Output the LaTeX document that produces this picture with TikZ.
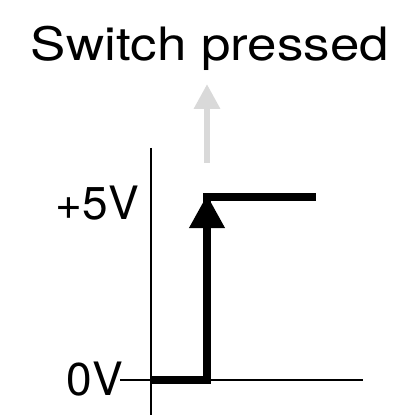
\documentclass[tikz,border=0pt]{standalone}
\usepackage{fontspec}
\setmainfont{TeX Gyre Heros}
\newfontfamily\titlefont[FakeStretch=1.15]{TeX Gyre Heros}
\usetikzlibrary{arrows.meta}
\definecolor{lightarrow}{HTML}{D9D9D9}
\begin{document}
\begin{tikzpicture}[x=1pt,y=-1pt,
  lbl/.style={inner sep=0pt,font=\fontsize{46}{50}\selectfont},
  axis/.style={line width=2pt,black},
  signal/.style={line width=7.5pt,black,line join=miter,line cap=butt},
  press/.style={line width=6.5pt,lightarrow,-{Triangle[width=25pt,length=25pt]}}]
\useasboundingbox (0,0) rectangle (411,419);
% labels
\node[lbl,anchor=base,font=\titlefont\fontsize{46}{50}\selectfont] (title) at (210,61) {Switch pressed};
\node[lbl,anchor=base east] (hi) at (139,219) {+5V};
\node[lbl,anchor=base east] (lo) at (123,395) {0V};
% axes
\coordinate (ytop) at (151,148);
\coordinate (ybot) at (151,415);
\coordinate (xl) at (lo.base east);
\coordinate (xl) at (120,380);
\coordinate (xr) at (363,380);
\draw[axis] (ytop) -- (ybot);
\draw[axis] (xl) -- (xr);
% signal
\coordinate (s0) at (151,380);
\coordinate (s1) at (207,380);
\coordinate (s2) at (207,197);
\coordinate (s3) at (316,197);
\draw[signal] (s0) -- (s1) -- (s2) -- (s3);
\draw[black,line width=7pt,-{Triangle[width=34pt,length=33pt]}] (207,300) -- (207,195);
% switch pressed arrow
\coordinate (p0) at (207,163);
\coordinate (p1) at (207,84);
\draw[press] (p0) -- (p1);
\end{tikzpicture}
\end{document}
